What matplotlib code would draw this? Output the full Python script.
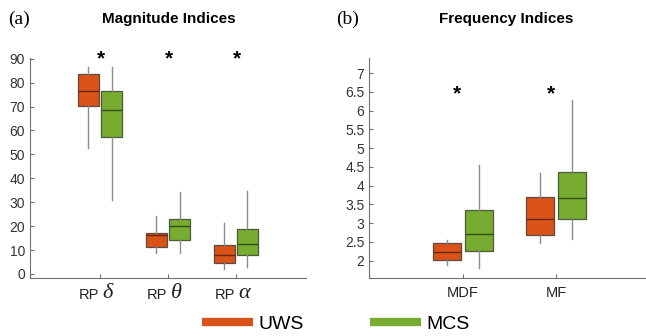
import matplotlib.pyplot as plt
from matplotlib.lines import Line2D
import numpy as np

plt.rcParams['font.family'] = ['Liberation Sans', 'DejaVu Sans']

# colours (UWS / MCS)
c_uws = '#D95319'
c_mcs = '#77AC30'
edge_uws = '#5e4a3e'
edge_mcs = '#4a5a3a'
med_uws = '#6a2508'
med_mcs = '#34501a'
whisk_col = '#8c8c8c'

# magnitude indices: whisker low, Q1, median, Q3, whisker high
mag_labels = ['RP', 'RP', 'RP']
mag_greek = ['δ', 'θ', 'α']
mag_uws = [[52.5, 70.2, 76.3, 83.8, 86.4],
           [8.9, 11.4, 16.2, 17.3, 24.2],
           [2.2, 4.6, 7.9, 12.0, 21.4]]
mag_mcs = [[30.9, 57.2, 68.5, 76.7, 86.4],
           [8.9, 14.1, 19.9, 23.1, 34.1],
           [2.8, 7.8, 12.4, 18.7, 34.8]]
mag_star = 90

# frequency indices
freq_labels = ['MDF', 'MF']
freq_uws = [[1.88, 2.03, 2.23, 2.46, 2.54],
            [2.46, 2.68, 3.10, 3.70, 4.33]]
freq_mcs = [[1.81, 2.26, 2.71, 3.36, 4.54],
            [2.57, 3.10, 3.66, 4.37, 6.28]]
freq_star = 6.45


def stats(rows):
    return [dict(whislo=r[0], q1=r[1], med=r[2], q3=r[3], whishi=r[4], fliers=[]) for r in rows]


def draw_group(ax, rows, pos, fc, ec, mc):
    ax.bxp(stats(rows), positions=pos, widths=0.3, showfliers=False, showcaps=False,
           patch_artist=True,
           boxprops=dict(facecolor=fc, edgecolor=ec, linewidth=0.9),
           medianprops=dict(color=mc, linewidth=1.0),
           whiskerprops=dict(color=whisk_col, linewidth=1.0))


def style(ax):
    for s in ['top', 'right']:
        ax.spines[s].set_visible(False)
    for s in ['left', 'bottom']:
        ax.spines[s].set_color('#707070')
        ax.spines[s].set_linewidth(0.8)
    ax.tick_params(direction='in', length=3, width=0.8, color='#707070',
                   labelsize=10, labelcolor='#333333')


fig = plt.figure(figsize=(6.46, 3.36), dpi=100)
ax1 = fig.add_axes([0.0464, 0.1726, 0.4272, 0.6548])
ax2 = fig.add_axes([0.5717, 0.1726, 0.4268, 0.6548])

# panel (a)
x1 = np.arange(1, len(mag_greek) + 1)
draw_group(ax1, mag_uws, x1 - 0.17, c_uws, edge_uws, med_uws)
draw_group(ax1, mag_mcs, x1 + 0.17, c_mcs, edge_mcs, med_mcs)
ax1.set_xlim(-0.03, 4.03)
ax1.set_ylim(-1.7, 90.3)
ax1.set_yticks(np.arange(0, 91, 10))
ax1.set_xticks(x1)
ax1.set_xticklabels([''] * len(x1))
style(ax1)
for xi, rp, g in zip(x1, mag_labels, mag_greek):
    ax1.text(xi + 0.02, mag_star, '*', ha='center', va='center', fontsize=15, fontweight='bold')
    ax1.text(xi - 0.01, -0.045, rp, transform=ax1.get_xaxis_transform(),
             ha='right', va='top', fontsize=10.5, color='#222222')
    ax1.text(xi + 0.04, -0.025, g, transform=ax1.get_xaxis_transform(),
             ha='left', va='top', fontsize=16, style='italic',
             family='Liberation Serif', color='#222222')

# panel (b)
x2 = np.arange(1, len(freq_labels) + 1)
draw_group(ax2, freq_uws, x2 - 0.17, c_uws, edge_uws, med_uws)
draw_group(ax2, freq_mcs, x2 + 0.17, c_mcs, edge_mcs, med_mcs)
ax2.set_xlim(0, 2.95)
ax2.set_ylim(1.54, 7.4)
ax2.set_yticks(np.arange(2, 7.01, 0.5))
ax2.set_yticklabels(['%g' % v for v in np.arange(2, 7.01, 0.5)])
ax2.set_xticks(x2)
style(ax2)
ax2.set_xticklabels(freq_labels, fontsize=10.5, color='#222222')
ax2.tick_params(axis='x', pad=6)
for xi in x2:
    ax2.text(xi - 0.06, freq_star, '*', ha='center', va='center', fontsize=15, fontweight='bold')

# titles and panel letters
fig.text(0.262, 0.943, 'Magnitude Indices', ha='center', va='center', fontsize=11, fontweight='bold')
fig.text(0.784, 0.943, 'Frequency Indices', ha='center', va='center', fontsize=11, fontweight='bold')
fig.text(0.012, 0.943, '(a)', ha='left', va='center', fontsize=14, family='Liberation Serif')
fig.text(0.521, 0.943, '(b)', ha='left', va='center', fontsize=14, family='Liberation Serif')

handles = [Line2D([], [], color=c_uws, lw=6, solid_capstyle='butt'),
           Line2D([], [], color=c_mcs, lw=6, solid_capstyle='butt')]
fig.legend(handles, ['UWS', 'MCS'], loc='center', bbox_to_anchor=(0.52, 0.036),
           ncol=2, frameon=False, fontsize=14, handlelength=2.6, handletextpad=0.3,
           columnspacing=3.4, borderpad=0, borderaxespad=0)

fig.savefig('out.png', dpi=100)
